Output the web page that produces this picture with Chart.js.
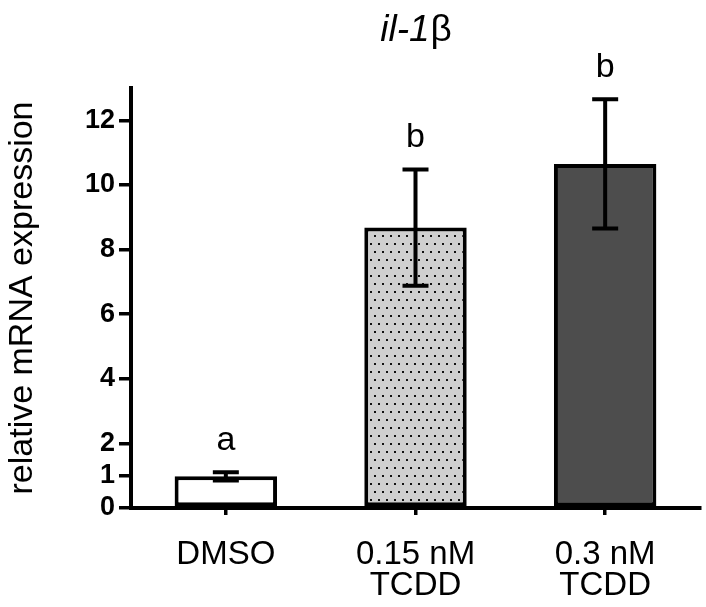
<!DOCTYPE html>
<html>
<head>
<meta charset="utf-8">
<script src="https://cdn.jsdelivr.net/npm/chart.js@4"></script>
<style>
  html, body { margin: 0; padding: 0; background: #ffffff; }
  #wrap { width: 706px; height: 607px; position: relative; }
</style>
</head>
<body>
<div id="wrap"><canvas id="c" width="706" height="607"></canvas></div>
<script>
// ---- data ----
const categories = [["DMSO"], ["0.15 nM", "TCDD"], ["0.3 nM", "TCDD"]];
const means = [0.98, 8.68, 10.65];
const errors = [0.13, 1.8, 2.0];
const letters = ["a", "b", "b"];
const yTicks = [0, 1, 2, 4, 6, 8, 10, 12];
const yMax = 13;

const ctx0 = document.getElementById('c').getContext('2d');
const dotCanvas = (function(){
  const p = document.createElement('canvas');
  p.width = 8; p.height = 16;
  const g = p.getContext('2d');
  g.fillStyle = '#cfcfcf'; g.fillRect(0, 0, 8, 16);
  g.fillStyle = '#111111';
  g.fillRect(2, 3, 2, 2); g.fillRect(6, 11, 2, 2);
  return p;
})();
const fills = ['#ffffff', ctx0.createPattern(dotCanvas, 'repeat'), '#4d4d4d'];

const FONT = "'Liberation Sans', Arial, sans-serif";

const extras = {
  id: 'extras',
  afterDatasetsDraw(chart) {
    const c = chart.ctx;
    const meta = chart.getDatasetMeta(0);
    const y = chart.scales.y;
    c.save();
    c.strokeStyle = '#000';
    c.lineWidth = 4;
    c.lineCap = 'butt';
    meta.data.forEach((bar, i) => {
      const x = bar.x;
      const top = y.getPixelForValue(means[i] + errors[i]);
      const bot = y.getPixelForValue(means[i] - errors[i]);
      c.beginPath();
      c.moveTo(x, top); c.lineTo(x, bot);
      c.moveTo(x - 13, top); c.lineTo(x + 13, top);
      c.moveTo(x - 13, bot); c.lineTo(x + 13, bot);
      c.stroke();
      c.fillStyle = '#000';
      c.font = "34px " + FONT;
      c.textAlign = 'center';
      c.textBaseline = 'alphabetic';
      c.fillText(letters[i], x, top - 22);
    });
    // title
    const ca = chart.chartArea;
    const cx = (ca.left + ca.right) / 2;
    c.textBaseline = 'alphabetic';
    c.textAlign = 'left';
    c.font = "italic 37px " + FONT;
    const t1 = "il-1";
    const w1 = c.measureText(t1).width;
    c.font = "37px " + FONT;
    const t2 = "β";
    const w2 = c.measureText(t2).width;
    const sx = cx - (w1 + w2) / 2;
    c.font = "italic 37px " + FONT;
    c.fillText(t1, sx, 41);
    c.font = "37px " + FONT;
    c.fillText(t2, sx + w1 + 1, 41);
    c.restore();
  }
};

new Chart(document.getElementById('c'), {
  type: 'bar',
  data: {
    labels: categories,
    datasets: [{
      data: means,
      backgroundColor: fills,
      borderColor: '#000',
      borderWidth: 4,
      borderSkipped: false,
      barPercentage: 0.54,
      categoryPercentage: 1.0
    }]
  },
  options: {
    responsive: false,
    animation: false,
    devicePixelRatio: 1,
    layout: { padding: { top: 88, right: 6, left: 0, bottom: 0 } },
    plugins: { legend: { display: false }, tooltip: { enabled: false }, title: { display: false } },
    scales: {
      x: {
        grid: { display: true, drawOnChartArea: false, drawTicks: true, tickLength: 7, color: '#000', lineWidth: 3.5, offset: false },
        border: { display: true, color: '#000', width: 4 },
        ticks: { color: '#000', font: { family: FONT, size: 33, lineHeight: 0.92 }, padding: 25, maxRotation: 0, autoSkip: false },
        afterFit(s) { s.height = 99; }
      },
      y: {
        min: 0, max: yMax,
        afterBuildTicks(s) { s.ticks = yTicks.map(v => ({ value: v })); },
        grid: { display: true, drawOnChartArea: false, drawTicks: true, tickLength: 12, color: '#000', lineWidth: 3.5 },
        border: { display: true, color: '#000', width: 4 },
        ticks: { color: '#000', font: { family: FONT, size: 27, weight: 'bold' }, padding: 4 },
        title: { display: true, text: 'relative mRNA expression', color: '#000', font: { family: FONT, size: 34 }, padding: { top: 2, bottom: 0 } },
        afterFit(s) { s.width = 131; }
      }
    }
  },
  plugins: [extras]
});
</script>
</body>
</html>
